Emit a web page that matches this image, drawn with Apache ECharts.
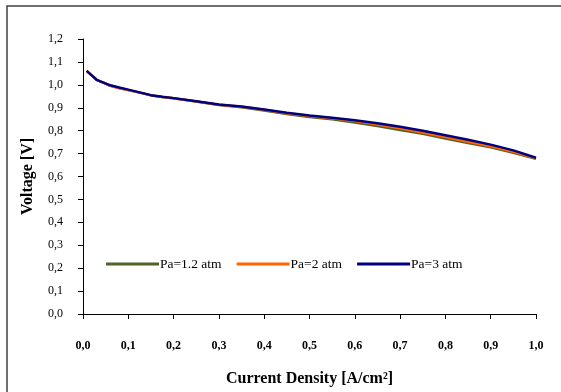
<!DOCTYPE html>
<html><head><meta charset="utf-8">
<script src="https://cdn.jsdelivr.net/npm/echarts@6/dist/echarts.min.js"></script>
<style>html,body{margin:0;padding:0;background:#fff}#c{width:561px;height:392px}</style>
</head><body><div id="c"></div>
<script>
const seriesNames = ['Pa=1.2 atm', 'Pa=2 atm', 'Pa=3 atm'];
const seriesColors = ['#4F6228', '#FF6600', '#000080'];
const currentDensity = [0.008, 0.02, 0.03, 0.045, 0.06, 0.08, 0.1, 0.125, 0.15, 0.175, 0.2, 0.25, 0.3, 0.35, 0.4, 0.45, 0.5, 0.55, 0.6, 0.65, 0.7, 0.75, 0.8, 0.85, 0.9, 0.95, 1.0];
const voltagePa12 = [1.061, 1.040, 1.022, 1.010, 0.997, 0.986, 0.977, 0.966, 0.954, 0.947, 0.941, 0.927, 0.912, 0.902, 0.888, 0.873, 0.860, 0.850, 0.836, 0.820, 0.803, 0.786, 0.766, 0.746, 0.727, 0.703, 0.677];
const voltagePa2  = [1.061, 1.040, 1.022, 1.010, 0.996, 0.985, 0.977, 0.966, 0.954, 0.947, 0.941, 0.927, 0.913, 0.904, 0.891, 0.876, 0.864, 0.854, 0.842, 0.827, 0.810, 0.792, 0.772, 0.752, 0.732, 0.708, 0.679];
const voltagePa3  = [1.061, 1.040, 1.022, 1.010, 0.998, 0.988, 0.979, 0.967, 0.955, 0.948, 0.942, 0.928, 0.914, 0.905, 0.892, 0.878, 0.866, 0.856, 0.845, 0.832, 0.817, 0.800, 0.780, 0.760, 0.739, 0.714, 0.682];
const xTicks = [0, 0.1, 0.2, 0.3, 0.4, 0.5, 0.6, 0.7, 0.8, 0.9, 1.0];
const yTicks = [0, 0.1, 0.2, 0.3, 0.4, 0.5, 0.6, 0.7, 0.8, 0.9, 1.0, 1.1, 1.2];
const xTitle = 'Current Density [A/cm²]';
const yTitle = 'Voltage [V]';

const F = '"Liberation Serif", "DejaVu Serif", serif';
const fmt = v => v.toFixed(1).replace('.', ',');
const allV = [voltagePa12, voltagePa2, voltagePa3];

const chart = echarts.init(document.getElementById('c'), null, {renderer: 'canvas'});
chart.setOption({
  animation: false,
  backgroundColor: '#fff',
  grid: {left: 83, top: 39, right: 25, bottom: 76},
  graphic: [{
    type: 'polyline', silent: true,
    shape: {points: [[7, 392], [7, 6], [561, 6]]},
    style: {stroke: '#404040', lineWidth: 1.5, fill: null}
  }],
  legend: {
    left: 106, top: 257, padding: 0,
    itemWidth: 53, itemHeight: 3, itemGap: 15,
    icon: 'rect',
    textStyle: {fontFamily: F, fontSize: 13.5, color: '#000', padding: [0, 0, 0, -4]},
    data: seriesNames
  },
  xAxis: {
    type: 'value', min: 0, max: 1, interval: 0.1,
    name: xTitle, nameLocation: 'middle', nameGap: 57,
    nameTextStyle: {fontFamily: F, fontSize: 16, fontWeight: 'bold', color: '#000'},
    axisLine: {lineStyle: {color: '#000', width: 1}},
    axisTick: {show: true, length: 5, lineStyle: {color: '#000'}},
    axisLabel: {formatter: fmt, margin: 26, fontFamily: F, fontSize: 12, fontWeight: 'bold', color: '#000'},
    splitLine: {show: false}
  },
  yAxis: {
    type: 'value', min: 0, max: 1.2, interval: 0.1,
    name: yTitle, nameLocation: 'middle', nameGap: 47,
    nameTextStyle: {fontFamily: F, fontSize: 16, fontWeight: 'bold', color: '#000'},
    axisLine: {show: true, lineStyle: {color: '#000', width: 1}},
    axisTick: {show: true, length: 5, lineStyle: {color: '#000'}},
    axisLabel: {formatter: fmt, margin: 20, fontFamily: F, fontSize: 12, color: '#000'},
    splitLine: {show: false}
  },
  series: seriesNames.map((n, i) => ({
    name: n, type: 'line', showSymbol: false, symbol: 'none',
    color: seriesColors[i],
    lineStyle: {width: 2.5, color: seriesColors[i]},
    data: currentDensity.map((x, j) => [x, allV[i][j]])
  }))
});
</script></body></html>
